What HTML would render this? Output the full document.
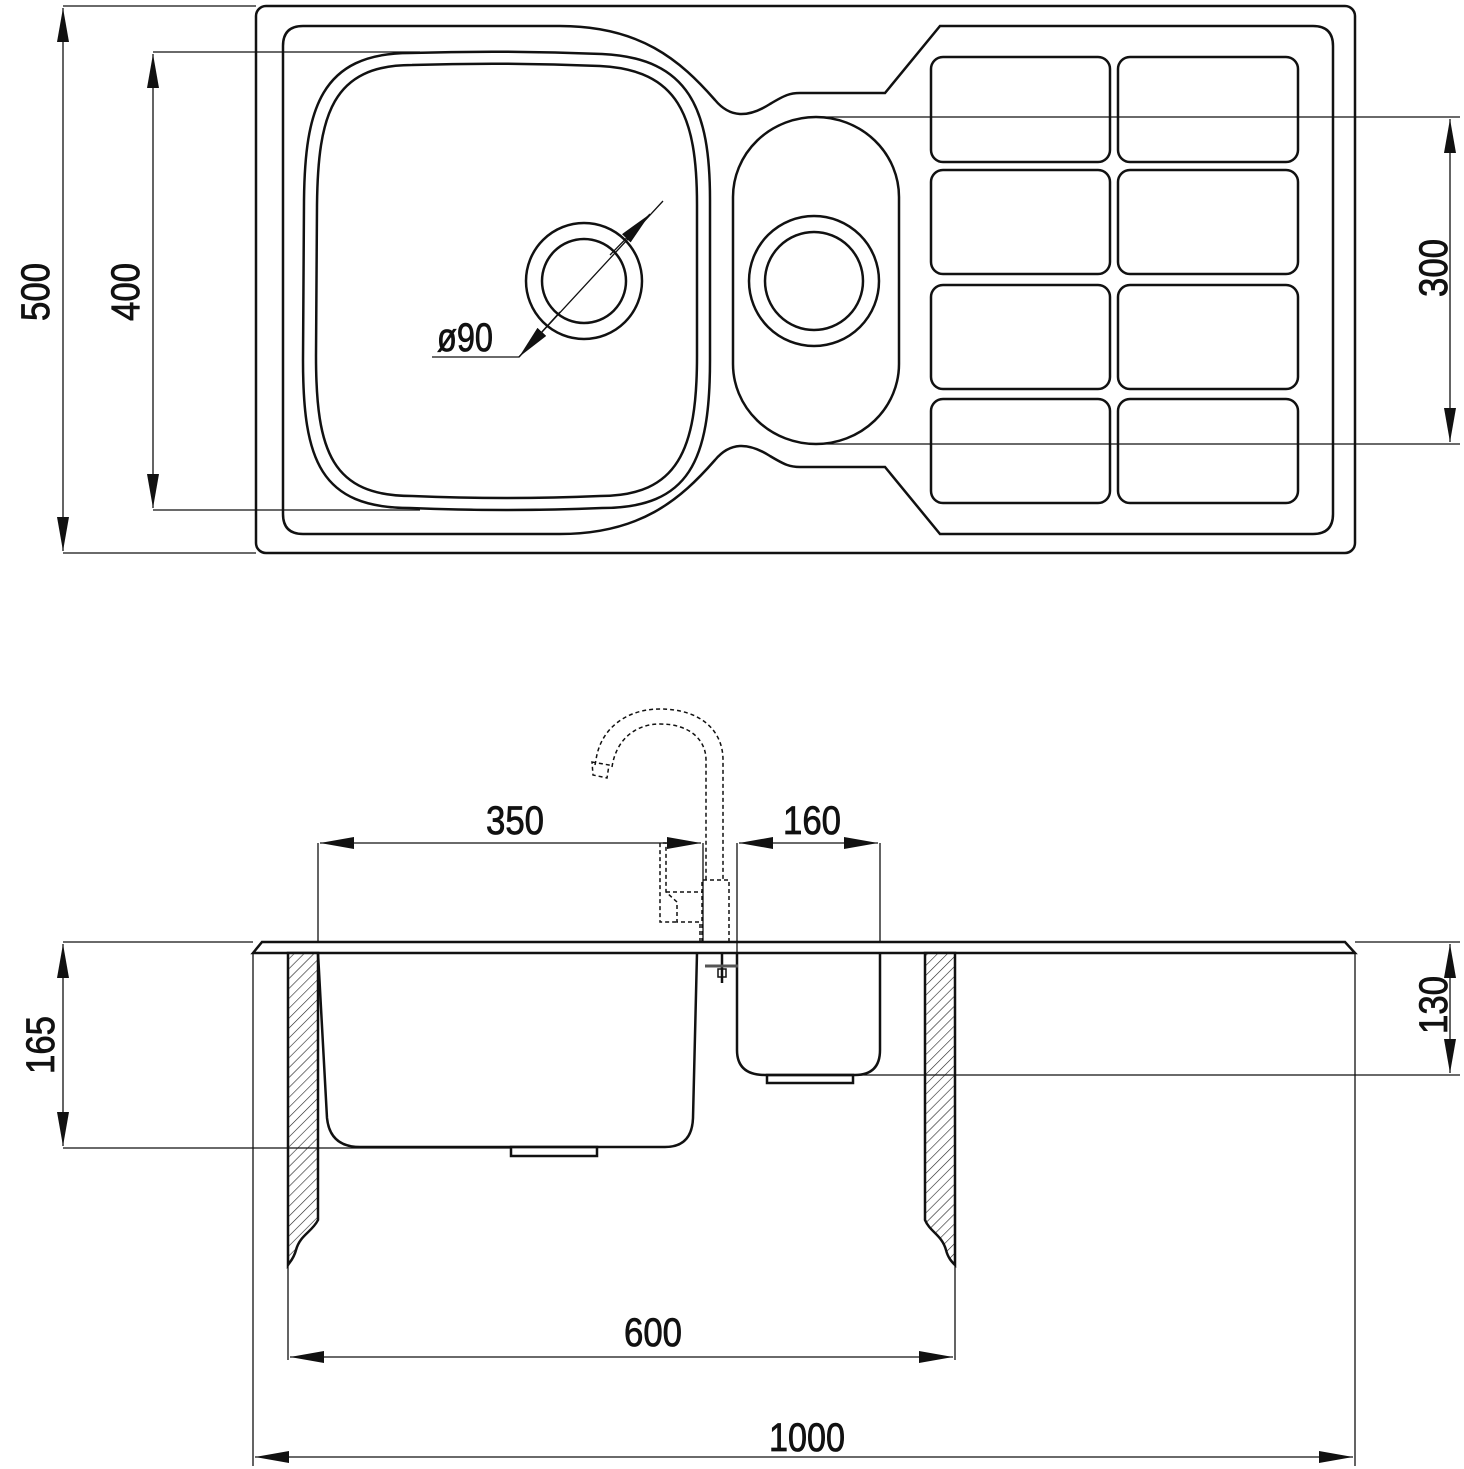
<!DOCTYPE html>
<html><head><meta charset="utf-8"><style>html,body{margin:0;padding:0;background:#fff}svg{display:block}</style></head>
<body>
<svg width="1464" height="1469" viewBox="0 0 1464 1469" xmlns="http://www.w3.org/2000/svg">
<defs>
<pattern id="h" patternUnits="userSpaceOnUse" width="7" height="7" patternTransform="rotate(45)">
<rect width="7" height="7" fill="#fff"/><line x1="0" y1="0" x2="0" y2="7" stroke="#222" stroke-width="1.2"/>
</pattern>
<marker id="a" viewBox="0 0 34 12" refX="34" refY="6" markerWidth="34" markerHeight="12" markerUnits="userSpaceOnUse" orient="auto-start-reverse"><path d="M0,0 L34,6 L0,12 Z" fill="#111"/></marker>
</defs>
<g fill="none" stroke="#111" stroke-width="2.5">
<rect x="256" y="6" width="1099" height="547" rx="10"/>
<path d="M303,26 L560,26 C640,26 680,60 715,100 C730,118 748,118 770,104 C785,95 790,93 800,93 L885,93 L940,26 L1313,26 Q1333,26 1333,46 L1333,514 Q1333,534 1313,534 L940,534 L885,467 L800,467 C790,467 785,465 770,456 C748,442 730,442 715,460 C680,500 640,534 560,534 L303,534 Q283,534 283,514 L283,46 Q283,26 303,26 Z"/>
<path d="M410,53 Q506,50 602,54 C690,58 710,110 710,200 L710,360 C710,460 690,508 602,508 Q506,512 410,508 C320,508 303,460 303,360 L304,200 C305,110 320,53 410,53 Z"/>
<path d="M412,65 Q506,62 600,66 C678,70 697,115 697,205 L697,356 C697,450 678,496 600,496 Q506,500 412,496 C332,496 316,452 316,356 L317,205 C318,115 332,65 412,65 Z"/>
<circle cx="584" cy="281" r="58"/><circle cx="584" cy="281" r="42"/>
<rect x="733" y="117" width="166" height="327" rx="83" ry="80"/>
<circle cx="814" cy="281" r="65"/><circle cx="814" cy="281" r="49"/>
<rect x="931" y="57" width="179" height="105" rx="12"/>
<rect x="1118" y="57" width="180" height="105" rx="12"/>
<rect x="931" y="170" width="179" height="104" rx="12"/>
<rect x="1118" y="170" width="180" height="104" rx="12"/>
<rect x="931" y="285" width="179" height="104" rx="12"/>
<rect x="1118" y="285" width="180" height="104" rx="12"/>
<rect x="931" y="399" width="179" height="104" rx="12"/>
<rect x="1118" y="399" width="180" height="104" rx="12"/>
</g>
<g fill="none" stroke="#111" stroke-width="1.3">
<line x1="63" y1="6" x2="256" y2="6"/><line x1="63" y1="553" x2="256" y2="553"/>
<line x1="63" y1="8" x2="63" y2="551" marker-start="url(#a)" marker-end="url(#a)"/>
<line x1="153" y1="52" x2="420" y2="52"/><line x1="153" y1="510" x2="420" y2="510"/>
<line x1="153" y1="54" x2="153" y2="508" marker-start="url(#a)" marker-end="url(#a)"/>
<line x1="814" y1="117" x2="1460" y2="117"/><line x1="814" y1="444" x2="1460" y2="444"/>
<line x1="1450" y1="119" x2="1450" y2="442" marker-start="url(#a)" marker-end="url(#a)"/>
<path d="M432,357 L519,357 L663,201"/>
<line x1="560" y1="312" x2="519" y2="357" marker-end="url(#a)"/>
<line x1="610" y1="255" x2="650" y2="214" marker-end="url(#a)"/>
</g>
<g font-family="Liberation Sans, sans-serif" font-size="40" fill="#111" stroke="#111" stroke-width="0.8">
<text transform="translate(49,292) rotate(-90)" text-anchor="middle" textLength="58" lengthAdjust="spacingAndGlyphs">500</text>
<text transform="translate(139,292) rotate(-90)" text-anchor="middle" textLength="58" lengthAdjust="spacingAndGlyphs">400</text>
<text transform="translate(1447,268) rotate(-90)" text-anchor="middle" textLength="58" lengthAdjust="spacingAndGlyphs">300</text>
<text x="437" y="351" textLength="56" lengthAdjust="spacingAndGlyphs">ø90</text>
<text x="486" y="834" textLength="58" lengthAdjust="spacingAndGlyphs">350</text>
<text x="783" y="834" textLength="58" lengthAdjust="spacingAndGlyphs">160</text>
<text x="624" y="1346" textLength="58" lengthAdjust="spacingAndGlyphs">600</text>
<text x="769" y="1451" textLength="76" lengthAdjust="spacingAndGlyphs">1000</text>
<text transform="translate(54,1045) rotate(-90)" text-anchor="middle" textLength="58" lengthAdjust="spacingAndGlyphs">165</text>
<text transform="translate(1447,1005) rotate(-90)" text-anchor="middle" textLength="58" lengthAdjust="spacingAndGlyphs">130</text>
</g>
<g fill="none" stroke="#111" stroke-width="2.5">
<path d="M253,953 L262,942 L1345,942 L1355,953 Z"/>
<path d="M288,953 L318,953 L318,1220 C312,1232 300,1235 296,1250 C294,1258 290,1262 288,1265 Z" fill="url(#h)"/>
<path d="M925,953 L955,953 L955,1265 C952,1262 948,1258 946,1250 C942,1235 930,1232 925,1220 Z" fill="url(#h)"/>
<path d="M318,953 L327,1118 Q330,1147 360,1147 L665,1147 Q692,1147 693,1118 L697,953"/>
<rect x="511" y="1147" width="86" height="9"/>
<path d="M737,953 L737,1050 Q737,1075 765,1075 L855,1075 Q880,1075 880,1050 L880,953"/>
<rect x="767" y="1075" width="86" height="8"/>
</g>
<g fill="none" stroke="#111" stroke-width="1.5" stroke-dasharray="4,3">
<path d="M595,765 L596,760 C600,730 625,709 660,709 C700,709 723,730 723,760 L723,880"/>
<path d="M612,767 C616,740 635,724 660,724 C690,724 706,740 706,760 L706,880"/>
<path d="M592,762 L609,765 L607,778 L593,775 Z"/>
<path d="M702,942 L702,880 L729,880 L729,942"/>
<path d="M700,942 L700,922 L677,922 L677,902 L666,892 L666,843 L660,843 L660,922 L677,922"/>
<path d="M666,892 L702,892"/>
</g>
<g fill="none" stroke="#111" stroke-width="1.3">
<line x1="703" y1="843" x2="703" y2="942"/>
<line x1="737" y1="843" x2="737" y2="953"/>
<line x1="318" y1="843" x2="318" y2="942"/>
<line x1="880" y1="843" x2="880" y2="942"/>
<line x1="320" y1="843" x2="701" y2="843" marker-start="url(#a)" marker-end="url(#a)"/>
<line x1="739" y1="843" x2="878" y2="843" marker-start="url(#a)" marker-end="url(#a)"/>
<line x1="63" y1="942" x2="253" y2="942"/><line x1="63" y1="1148" x2="511" y2="1148"/>
<line x1="63" y1="944" x2="63" y2="1146" marker-start="url(#a)" marker-end="url(#a)"/>
<line x1="1355" y1="942" x2="1460" y2="942"/><line x1="853" y1="1075" x2="1460" y2="1075"/>
<line x1="1450" y1="944" x2="1450" y2="1073" marker-start="url(#a)" marker-end="url(#a)"/>
<line x1="288" y1="1265" x2="288" y2="1360"/><line x1="955" y1="1265" x2="955" y2="1360"/>
<line x1="290" y1="1357" x2="953" y2="1357" marker-start="url(#a)" marker-end="url(#a)"/>
<line x1="253" y1="953" x2="253" y2="1466"/><line x1="1355" y1="953" x2="1355" y2="1466"/>
<line x1="255" y1="1457" x2="1353" y2="1457" marker-start="url(#a)" marker-end="url(#a)"/>
</g>
<g stroke="#111" stroke-width="2.5" fill="none">
<line x1="722" y1="953" x2="722" y2="983"/>
<line x1="705" y1="966" x2="738" y2="966" stroke-width="3" stroke="#555"/>
<rect x="718" y="969" width="8" height="8" stroke-width="1.5"/>
</g>
</svg>
</body></html>
